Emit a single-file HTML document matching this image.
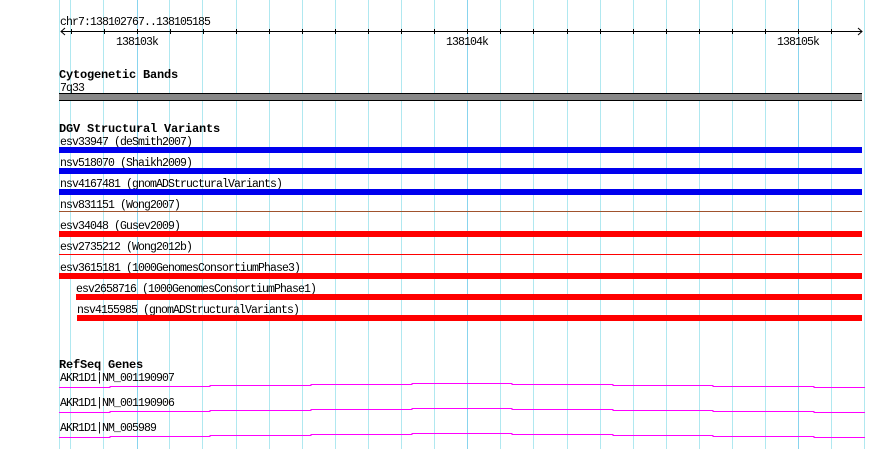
<!DOCTYPE html>
<html><head><meta charset="utf-8"><style>
html,body{margin:0;padding:0;background:#fff;}
svg{display:block}
text{font-family:"Liberation Mono","DejaVu Sans Mono",monospace;font-size:11.5px;letter-spacing:-0.9px;fill:#000}
.b{font-weight:bold;font-size:12px;letter-spacing:-0.2px}
</style></head><body>
<svg width="890" height="449" viewBox="0 0 890 449" xmlns="http://www.w3.org/2000/svg">
<g stroke="#b0e8f0" stroke-width="1">
<line x1="59.5" y1="0" x2="59.5" y2="449"/>
<line x1="70.5" y1="0" x2="70.5" y2="449"/><line x1="103.5" y1="0" x2="103.5" y2="449"/>
<line x1="169.5" y1="0" x2="169.5" y2="449"/><line x1="202.5" y1="0" x2="202.5" y2="449"/>
<line x1="236.5" y1="0" x2="236.5" y2="449"/><line x1="269.5" y1="0" x2="269.5" y2="449"/>
<line x1="302.5" y1="0" x2="302.5" y2="449"/><line x1="335.5" y1="0" x2="335.5" y2="449"/>
<line x1="368.5" y1="0" x2="368.5" y2="449"/><line x1="401.5" y1="0" x2="401.5" y2="449"/>
<line x1="434.5" y1="0" x2="434.5" y2="449"/>
<line x1="500.5" y1="0" x2="500.5" y2="449"/><line x1="533.5" y1="0" x2="533.5" y2="449"/>
<line x1="567.5" y1="0" x2="567.5" y2="449"/><line x1="600.5" y1="0" x2="600.5" y2="449"/>
<line x1="633.5" y1="0" x2="633.5" y2="449"/><line x1="666.5" y1="0" x2="666.5" y2="449"/>
<line x1="699.5" y1="0" x2="699.5" y2="449"/><line x1="732.5" y1="0" x2="732.5" y2="449"/>
<line x1="765.5" y1="0" x2="765.5" y2="449"/>
<line x1="831.5" y1="0" x2="831.5" y2="449"/><line x1="864.5" y1="0" x2="864.5" y2="449"/>
</g>
<g stroke="#88d4ee" stroke-width="1">
<line x1="137.5" y1="0" x2="137.5" y2="449"/><line x1="467.5" y1="0" x2="467.5" y2="449"/><line x1="798.5" y1="0" x2="798.5" y2="449"/>
</g>
<text x="60" y="25">chr7:138102767..138105185</text>
<line x1="61" y1="31.5" x2="862" y2="31.5" stroke="#000"/>
<path d="M65 28 L61 31.5 L65 35 M858 28 L862 31.5 L858 35" stroke="#000" fill="none"/>
<g stroke="#000">
<line x1="71.5" y1="29" x2="71.5" y2="34"/><line x1="104.5" y1="29" x2="104.5" y2="34"/><line x1="137.5" y1="29" x2="137.5" y2="34"/>
<line x1="170.5" y1="29" x2="170.5" y2="34"/><line x1="203.5" y1="29" x2="203.5" y2="34"/><line x1="236.5" y1="29" x2="236.5" y2="34"/>
<line x1="269.5" y1="29" x2="269.5" y2="34"/><line x1="302.5" y1="29" x2="302.5" y2="34"/><line x1="335.5" y1="29" x2="335.5" y2="34"/>
<line x1="368.5" y1="29" x2="368.5" y2="34"/><line x1="401.5" y1="29" x2="401.5" y2="34"/><line x1="434.5" y1="29" x2="434.5" y2="34"/>
<line x1="467.5" y1="29" x2="467.5" y2="34"/><line x1="500.5" y1="29" x2="500.5" y2="34"/><line x1="533.5" y1="29" x2="533.5" y2="34"/>
<line x1="567.5" y1="29" x2="567.5" y2="34"/><line x1="600.5" y1="29" x2="600.5" y2="34"/><line x1="633.5" y1="29" x2="633.5" y2="34"/>
<line x1="666.5" y1="29" x2="666.5" y2="34"/><line x1="699.5" y1="29" x2="699.5" y2="34"/><line x1="732.5" y1="29" x2="732.5" y2="34"/>
<line x1="765.5" y1="29" x2="765.5" y2="34"/><line x1="798.5" y1="29" x2="798.5" y2="34"/><line x1="831.5" y1="29" x2="831.5" y2="34"/>
</g>
<text x="116" y="45">138103k</text>
<text x="446" y="45">138104k</text>
<text x="777" y="45">138105k</text>

<text class="b" x="59" y="78">Cytogenetic Bands</text>
<text x="60" y="91">7q33</text>
<rect x="59" y="93" width="803" height="8" fill="#000"/>
<rect x="59" y="94" width="803" height="6" fill="#888"/>

<text class="b" x="59" y="132">DGV Structural Variants</text>
<text x="60" y="145">esv33947 (deSmith2007)</text>
<rect x="59" y="147" width="803" height="6" fill="#0000ee"/>
<text x="60" y="166">nsv518070 (Shaikh2009)</text>
<rect x="59" y="168" width="803" height="6" fill="#0000ee"/>
<text x="60" y="187">nsv4167481 (gnomADStructuralVariants)</text>
<rect x="59" y="189" width="803" height="6" fill="#0000ee"/>
<text x="60" y="208">nsv831151 (Wong2007)</text>
<rect x="59" y="211" width="803" height="1" fill="#a0522d"/>
<text x="60" y="229">esv34048 (Gusev2009)</text>
<rect x="59" y="231" width="803" height="6" fill="#ff0000"/>
<text x="60" y="250">esv2735212 (Wong2012b)</text>
<rect x="59" y="254" width="803" height="1" fill="#ff0000"/>
<text x="60" y="271">esv3615181 (1000GenomesConsortiumPhase3)</text>
<rect x="59" y="273" width="803" height="6" fill="#ff0000"/>
<text x="76" y="292">esv2658716 (1000GenomesConsortiumPhase1)</text>
<rect x="76" y="294" width="786" height="6" fill="#ff0000"/>
<text x="77" y="313">nsv4155985 (gnomADStructuralVariants)</text>
<rect x="77" y="315" width="785" height="6" fill="#ff0000"/>

<text class="b" x="59" y="368">RefSeq Genes</text>
<text x="60" y="381">AKR1D1|NM_001190907</text>
<text x="60" y="406">AKR1D1|NM_001190906</text>
<text x="60" y="431">AKR1D1|NM_005989</text>
<g fill="none" stroke="#ff00ff" stroke-width="1">
<path d="M59 387.5 H110 V386.5 H210 V385.5 H311 V384.5 H412 V383.5 H512 V384.5 H613 V385.5 H713 V386.5 H814 V387.5 H865"/>
<path d="M59 412.5 H110 V411.5 H210 V410.5 H311 V409.5 H412 V408.5 H512 V409.5 H613 V410.5 H713 V411.5 H814 V412.5 H865"/>
<path d="M59 437.5 H110 V436.5 H210 V435.5 H311 V434.5 H412 V433.5 H512 V434.5 H613 V435.5 H713 V436.5 H814 V437.5 H865"/>
</g>
</svg>
</body></html>
